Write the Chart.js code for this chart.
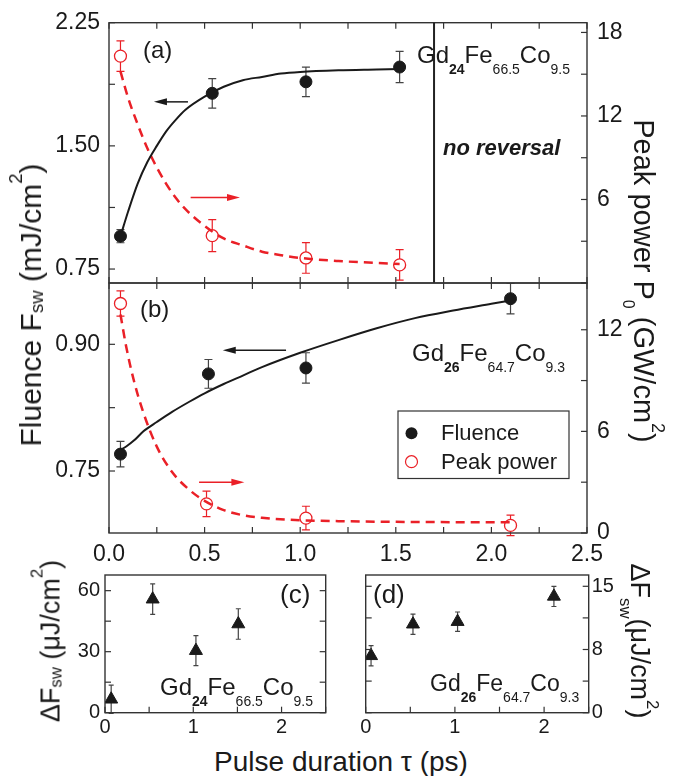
<!DOCTYPE html>
<html>
<head>
<meta charset="utf-8">
<script src="https://cdn.jsdelivr.net/npm/chart.js@4.4.1/dist/chart.umd.min.js"></script>
<style>
  body { margin: 0; background: #fff; }
  #fig { position: relative; width: 679px; height: 776px; overflow: hidden;
         font-family: "Liberation Sans", Arial, sans-serif; color: #1a1a1a; }
  #fig canvas { position: absolute; }
  .lbl { position: absolute; white-space: nowrap; line-height: 1; }
  .lbl sub, .lbl sup { line-height: 0; }
  .center { transform: translate(-50%, -50%); }
  .rot-l { transform: translate(-50%, -50%) rotate(-90deg); }
  .rot-r { transform: translate(-50%, -50%) rotate(90deg); }
  .formula sub { font-size: 14px; vertical-align: -11px; }
  .title sup { font-size: 0.62em; vertical-align: 1em; }
</style>
</head>
<body>
<div id="fig">
  <canvas id="chartA" width="679" height="290" style="left:0;top:0"></canvas>
  <canvas id="chartB" width="679" height="299" style="left:0;top:276px"></canvas>
  <canvas id="chartC" width="340" height="180" style="left:0;top:560px"></canvas>
  <canvas id="chartD" width="339" height="180" style="left:340px;top:560px"></canvas>

  <!-- axis titles -->
  <div class="lbl title rot-l" style="left:31px;top:305px;font-size:30px">Fluence F<sub style="font-size:0.62em;vertical-align:-0.1em">sw</sub> (mJ/cm<sup>2</sup>)</div>
  <div class="lbl title rot-r" style="left:643px;top:281px;font-size:29px">Peak power P<sub style="font-size:0.55em;vertical-align:-0.7em">0</sub> (GW/cm<sup>2</sup>)</div>
  <div class="lbl title center" style="left:341px;top:762px;font-size:28px">Pulse duration &tau; (ps)</div>
  <div class="lbl title rot-l" style="left:51px;top:641px;font-size:27px">&Delta;F<sub style="font-size:0.62em;vertical-align:-0.1em">sw</sub> (&mu;J/cm<sup>2</sup>)</div>
  <div class="lbl title rot-r" style="left:639px;top:641px;font-size:27px">&Delta;F<sub style="font-size:0.62em;vertical-align:-0.6em">sw</sub>(&mu;J/cm<sup>2</sup>)</div>

  <!-- panel letters -->
  <div class="lbl" style="left:143px;top:38px;font-size:24px">(a)</div>
  <div class="lbl" style="left:140px;top:297px;font-size:24px">(b)</div>
  <div class="lbl" style="left:280px;top:581px;font-size:26px">(c)</div>
  <div class="lbl" style="left:373px;top:581px;font-size:26px">(d)</div>

  <!-- sample labels -->
  <div class="lbl formula" style="left:417px;top:43px;font-size:24px">Gd<sub><b>24</b></sub>Fe<sub>66.5</sub>Co<sub>9.5</sub></div>
  <div class="lbl" style="left:443px;top:137px;font-size:22px;font-weight:bold;font-style:italic">no reversal</div>
  <div class="lbl formula" style="left:412px;top:341px;font-size:24px">Gd<sub><b>26</b></sub>Fe<sub>64.7</sub>Co<sub>9.3</sub></div>
  <div class="lbl formula" style="left:160px;top:675px;font-size:24px">Gd<sub><b>24</b></sub>Fe<sub>66.5</sub>Co<sub>9.5</sub></div>
  <div class="lbl formula" style="left:430px;top:672px;font-size:23px">Gd<sub><b>26</b></sub>Fe<sub>64.7</sub>Co<sub>9.3</sub></div>
</div>

<script>
// ---------------- data ----------------
// (a) Gd24Fe66.5Co9.5
const tauA = [0.06, 0.54, 1.03, 1.52];
const fluenceA = [0.95, 1.82, 1.89, 1.98];
const fluenceAErr = [0.04, 0.09, 0.09, 0.095];
const powerTauA = [0.06, 0.54, 1.03, 1.52];
const powerA = [16.3, 3.4, 1.8, 1.3];
const powerAErr = [1.1, 1.15, 1.1, 1.1];
const fitTauA = [0.06, 0.1, 0.15, 0.2, 0.25, 0.3, 0.35, 0.4, 0.5, 0.6, 0.7, 0.8, 0.9, 1.0, 1.2, 1.4, 1.52];
const fitFluenceA = [0.95, 1.10, 1.27, 1.40, 1.50, 1.59, 1.66, 1.72, 1.80, 1.86, 1.90, 1.92, 1.94, 1.95, 1.96, 1.965, 1.968];
const fitPowerA = [15.2, 13.3, 11.4, 9.7, 8.3, 7.1, 6.1, 5.3, 4.1, 3.2, 2.7, 2.25, 2.0, 1.8, 1.58, 1.44, 1.37];

// (b) Gd26Fe64.7Co9.3
const tauB = [0.06, 0.52, 1.03, 2.10];
const fluenceB = [0.770, 0.865, 0.872, 0.954];
const fluenceBErr = [0.015, 0.017, 0.018, 0.018];
const powerTauB = [0.06, 0.51, 1.03, 2.10];
const powerB = [13.55, 1.72, 0.88, 0.45];
const powerBErr = [0.74, 0.75, 0.7, 0.6];
const fitTauB = [0.06, 0.09, 0.13, 0.18, 0.25, 0.33, 0.42, 0.5, 0.6, 0.7, 0.8, 1.0, 1.2, 1.4, 1.6, 1.8, 2.0, 2.1];
const fitFluenceB = [0.775, 0.779, 0.786, 0.797, 0.808, 0.820, 0.832, 0.842, 0.853, 0.863, 0.873, 0.890, 0.905, 0.919, 0.931, 0.940, 0.948, 0.952];
const fitPowerB = [12.9, 11.0, 9.0, 7.1, 5.1, 3.6, 2.55, 1.9, 1.35, 1.05, 0.9, 0.75, 0.7, 0.67, 0.65, 0.64, 0.63, 0.63];

// (c) and (d) switching window
const tauC = [0.07, 0.54, 1.03, 1.51];
const deltaC = [6.6, 55.8, 30.5, 43.6];
const deltaCErr = [7, 7.5, 7.4, 7.5];
const tauD = [0.06, 0.53, 1.03, 2.11];
const deltaD = [6.75, 10.5, 10.8, 13.8];
const deltaDErr = [1.2, 1.2, 1.15, 1.2];

// tick labels and tick marks
const xLabelsMain = [0, 0.5, 1, 1.5, 2, 2.5];
const xMarksMain = [0, 0.25, 0.5, 0.75, 1, 1.25, 1.5, 1.75, 2, 2.25, 2.5];
const xLabelsSmall = [0, 1, 2];
const xMarksSmall = [0, 0.5, 1, 1.5, 2, 2.5];
const fluenceLabelsA = [0.75, 1.5, 2.25];
const fluenceMarksA = [0.75, 1.125, 1.5, 1.875, 2.25];
const powerLabelsA = [6, 12, 18];
const powerMarksA = [0, 3, 6, 9, 12, 15, 18];
const fluenceLabelsB = [0.75, 0.9];
const fluenceMarksB = [0.75, 0.825, 0.9];
const powerLabelsB = [0, 6, 12];
const powerMarksB = [0, 3, 6, 9, 12];
const deltaLabelsC = [0, 30, 60];
const deltaMarksC = [0, 15, 30, 45, 60];
const deltaLabelsD = [0, 7.5, 15];
const deltaMarksD = [0, 3.75, 7.5, 11.25, 15];

// ---------------- helpers ----------------
const FONT = '"Liberation Sans", Arial, sans-serif';
const INK = '#1a1a1a';
const RED = '#ea2027';

function xy(xs, ys) {
    return xs.map((x, i) => ({ x: x, y: ys[i] }));
}

function fixedTicks(values) {
    return axis => { axis.ticks = values.map(v => ({ value: v })); };
}

// extras per canvas: tick marks, arrows, lines, legend
const panelExtras = {};

// error bars behind the markers
const errorBarPlugin = {
    id: 'errorBars',
    beforeDatasetsDraw(chart) {
        const ctx = chart.ctx;
        chart.data.datasets.forEach((ds, i) => {
            if (!ds.errors) return;
            const ys = chart.scales[ds.yAxisID || 'y'];
            const xs = chart.scales.x;
            ctx.save();
            ctx.strokeStyle = ds.errorColor;
            ctx.lineWidth = 1.2;
            ds.data.forEach((d, j) => {
                const px = xs.getPixelForValue(d.x);
                const py = ys.getPixelForValue(d.y);
                const top = ys.getPixelForValue(d.y + ds.errors[j]);
                const bot = ys.getPixelForValue(d.y - ds.errors[j]);
                const gap = ds.errorGap || 0;
                const cap = ds.capWidth;
                ctx.beginPath();
                ctx.moveTo(px, top); ctx.lineTo(px, py - gap);
                ctx.moveTo(px, py + gap); ctx.lineTo(px, bot);
                ctx.moveTo(px - cap, top); ctx.lineTo(px + cap, top);
                ctx.moveTo(px - cap, bot); ctx.lineTo(px + cap, bot);
                ctx.stroke();
            });
            ctx.restore();
        });
    }
};

function drawArrow(ctx, x1, y1, x2, y2, color) {
    const dir = Math.sign(x2 - x1);
    ctx.save();
    ctx.strokeStyle = color;
    ctx.fillStyle = color;
    ctx.lineWidth = 1.5;
    ctx.beginPath();
    ctx.moveTo(x1, y1);
    ctx.lineTo(x2 - dir * 10, y2);
    ctx.stroke();
    ctx.beginPath();
    ctx.moveTo(x2, y2);
    ctx.lineTo(x2 - dir * 13, y2 - 3.5);
    ctx.lineTo(x2 - dir * 13, y2 + 3.5);
    ctx.closePath();
    ctx.fill();
    ctx.restore();
}

// frame with inward ticks, plus the annotations
const framePlugin = {
    id: 'frameTicks',
    afterDatasetsDraw(chart) {
        const ctx = chart.ctx;
        const a = chart.chartArea;
        const ex = panelExtras[chart.canvas.id];
        ctx.save();
        ctx.strokeStyle = '#333';
        ctx.lineWidth = 1.2;
        ex.marks.forEach(m => {
            const s = chart.scales[m.scale];
            m.values.forEach(v => {
                const p = s.getPixelForValue(v);
                m.sides.forEach(side => {
                    ctx.beginPath();
                    if (side === 'left') { ctx.moveTo(a.left, p); ctx.lineTo(a.left + 6, p); }
                    if (side === 'right') { ctx.moveTo(a.right, p); ctx.lineTo(a.right - 6, p); }
                    if (side === 'top') { ctx.moveTo(p, a.top); ctx.lineTo(p, a.top + 6); }
                    if (side === 'bottom') { ctx.moveTo(p, a.bottom); ctx.lineTo(p, a.bottom - 6); }
                    ctx.stroke();
                });
            });
        });
        ctx.lineWidth = 1.4;
        ctx.strokeRect(a.left, a.top, a.right - a.left, a.bottom - a.top);

        // vertical boundary line
        (ex.vlines || []).forEach(v => {
            const px = chart.scales.x.getPixelForValue(v);
            ctx.beginPath();
            ctx.lineWidth = 2;
            ctx.strokeStyle = '#222';
            ctx.moveTo(px, a.top);
            ctx.lineTo(px, a.bottom);
            ctx.stroke();
        });

        // arrows pointing at the axis that belongs to each curve
        (ex.arrows || []).forEach(ar => {
            const xs = chart.scales.x, ys = chart.scales[ar.scale];
            const py = ys.getPixelForValue(ar.y);
            drawArrow(ctx, xs.getPixelForValue(ar.from), py, xs.getPixelForValue(ar.to), py, ar.color);
        });

        // legend box
        if (ex.legend) {
            const L = ex.legend;
            ctx.lineWidth = 1.2;
            ctx.strokeStyle = '#333';
            ctx.strokeRect(L.x, L.y, L.w, L.h);
            ctx.font = '22px ' + FONT;
            ctx.textBaseline = 'middle';
            ctx.fillStyle = INK;
            L.items.forEach(it => {
                ctx.beginPath();
                ctx.arc(L.x + 13.5, it.y, 6, 0, Math.PI * 2);
                if (it.filled) {
                    ctx.fillStyle = INK;
                    ctx.fill();
                } else {
                    ctx.strokeStyle = RED;
                    ctx.lineWidth = 1.2;
                    ctx.stroke();
                }
                ctx.fillStyle = INK;
                ctx.fillText(it.text, L.x + 43, it.y + 1);
            });
        }
        ctx.restore();
    }
};

function pointSet(xs, ys, errs, filled, yAxis, style) {
    return {
        data: xy(xs, ys),
        yAxisID: yAxis,
        pointStyle: style || 'circle',
        pointRadius: style === 'triangle' ? 7.5 : 6,
        pointBackgroundColor: filled ? INK : 'rgba(0,0,0,0)',
        pointBorderColor: filled ? INK : RED,
        pointBorderWidth: filled ? 1 : 1.3,
        showLine: false,
        errors: errs,
        errorColor: filled ? '#444' : RED,
        errorGap: filled ? 0 : 6,
        capWidth: style === 'triangle' ? 2.5 : 4
    };
}

function fitLine(xs, ys, yAxis, dashed) {
    return {
        data: xy(xs, ys),
        yAxisID: yAxis,
        showLine: true,
        pointRadius: 0,
        borderColor: dashed ? RED : INK,
        borderWidth: dashed ? 2.5 : 2,
        borderDash: dashed ? [9, 6] : [],
        cubicInterpolationMode: 'monotone'
    };
}

// the axes must not reserve room for half a label at each end
function yAxis(pos, min, max, labels, width, fmt, size, pad) {
    return {
        type: 'linear', position: pos, min: min, max: max,
        afterFit: s => { s.width = width; s.paddingTop = 0; s.paddingBottom = 0; },
        afterBuildTicks: fixedTicks(labels),
        grid: { display: false, drawTicks: false },
        border: { display: false },
        ticks: { callback: fmt, color: INK, padding: pad, font: { family: FONT, size: size } }
    };
}

function xAxis(show, labels, height, fmt, size, pad) {
    return {
        type: 'linear', position: 'bottom', min: 0, max: 2.5, display: show,
        afterFit: s => { s.height = height; s.paddingLeft = 0; s.paddingRight = 0; },
        afterBuildTicks: fixedTicks(labels),
        grid: { display: false, drawTicks: false },
        border: { display: false },
        ticks: { callback: fmt, color: INK, padding: pad, maxRotation: 0, font: { family: FONT, size: size } }
    };
}

function makeChart(id, datasets, scales, padding) {
    return new Chart(document.getElementById(id), {
        type: 'scatter',
        data: { datasets: datasets },
        options: {
            responsive: false,
            animation: false,
            devicePixelRatio: 1,
            layout: { padding: padding, autoPadding: false },
            plugins: { legend: { display: false }, tooltip: { enabled: false } },
            scales: scales
        },
        plugins: [errorBarPlugin, framePlugin]
    });
}

// ---------------- panel (a) ----------------
panelExtras.chartA = {
    marks: [
        { scale: 'x', values: xMarksMain, sides: ['top', 'bottom'] },
        { scale: 'y', values: fluenceMarksA, sides: ['left'] },
        { scale: 'y2', values: powerMarksA, sides: ['right'] }
    ],
    vlines: [1.70],
    arrows: [
        { scale: 'y', y: 1.768, from: 0.413, to: 0.235, color: INK },
        { scale: 'y2', y: 6.14, from: 0.427, to: 0.685, color: RED }
    ]
};
makeChart('chartA', [
    pointSet(tauA, fluenceA, fluenceAErr, true, 'y'),
    pointSet(powerTauA, powerA, powerAErr, false, 'y2'),
    fitLine(fitTauA, fitFluenceA, 'y', false),
    fitLine(fitTauA, fitPowerA, 'y2', true)
], {
    x: xAxis(false, xLabelsMain, 0, v => v.toFixed(1), 23, 8),
    y: yAxis('left', 0.665, 2.25, fluenceLabelsA, 109, v => v.toFixed(2), 23, 9),
    y2: yAxis('right', 0, 18.7, powerLabelsA, 92, v => v, 23, 10)
}, { top: 22.7, bottom: 7 });

// ---------------- panel (b) ----------------
panelExtras.chartB = {
    marks: [
        { scale: 'x', values: xMarksMain, sides: ['top', 'bottom'] },
        { scale: 'y', values: fluenceMarksB, sides: ['left'] },
        { scale: 'y2', values: powerMarksB, sides: ['right'] }
    ],
    arrows: [
        { scale: 'y', y: 0.893, from: 0.926, to: 0.595, color: INK },
        { scale: 'y2', y: 3.0, from: 0.471, to: 0.708, color: RED }
    ],
    legend: {
        x: 398, y: 135, w: 171, h: 67.5,
        items: [
            { text: 'Fluence', y: 157.3, filled: true },
            { text: 'Peak power', y: 185.7, filled: false }
        ]
    }
};
makeChart('chartB', [
    pointSet(tauB, fluenceB, fluenceBErr, true, 'y'),
    pointSet(powerTauB, powerB, powerBErr, false, 'y2'),
    fitLine(fitTauB, fitFluenceB, 'y', false),
    fitLine(fitTauB, fitPowerB, 'y2', true)
], {
    x: xAxis(true, xLabelsMain, 42, v => v.toFixed(1), 23, 8),
    y: yAxis('left', 0.6766, 0.9726, fluenceLabelsB, 109, v => v.toFixed(2), 23, 9),
    y2: yAxis('right', 0, 14.76, powerLabelsB, 92, v => v, 23, 10)
}, { top: 7 });

// ---------------- panel (c) ----------------
panelExtras.chartC = {
    marks: [
        { scale: 'x', values: xMarksSmall, sides: ['bottom'] },
        { scale: 'y', values: deltaMarksC, sides: ['left', 'right'] }
    ]
};
makeChart('chartC', [
    pointSet(tauC, deltaC, deltaCErr, true, 'y', 'triangle')
], {
    x: xAxis(true, xLabelsSmall, 27.3, v => v, 20, 3),
    y: yAxis('left', 0, 67.7, deltaLabelsC, 105, v => v, 20, 5)
}, { top: 15, right: 14.3 });

// ---------------- panel (d) ----------------
panelExtras.chartD = {
    marks: [
        { scale: 'x', values: xMarksSmall, sides: ['bottom'] },
        { scale: 'y', values: deltaMarksD, sides: ['left', 'right'] }
    ]
};
makeChart('chartD', [
    pointSet(tauD, deltaD, deltaDErr, true, 'y', 'triangle')
], {
    x: xAxis(true, xLabelsSmall, 27.3, v => v, 20, 3),
    y: yAxis('right', 0, 16.34, deltaLabelsD, 90.3, v => Math.round(v), 20, 3)
}, { top: 15, left: 25.7 });
</script>
</body>
</html>
